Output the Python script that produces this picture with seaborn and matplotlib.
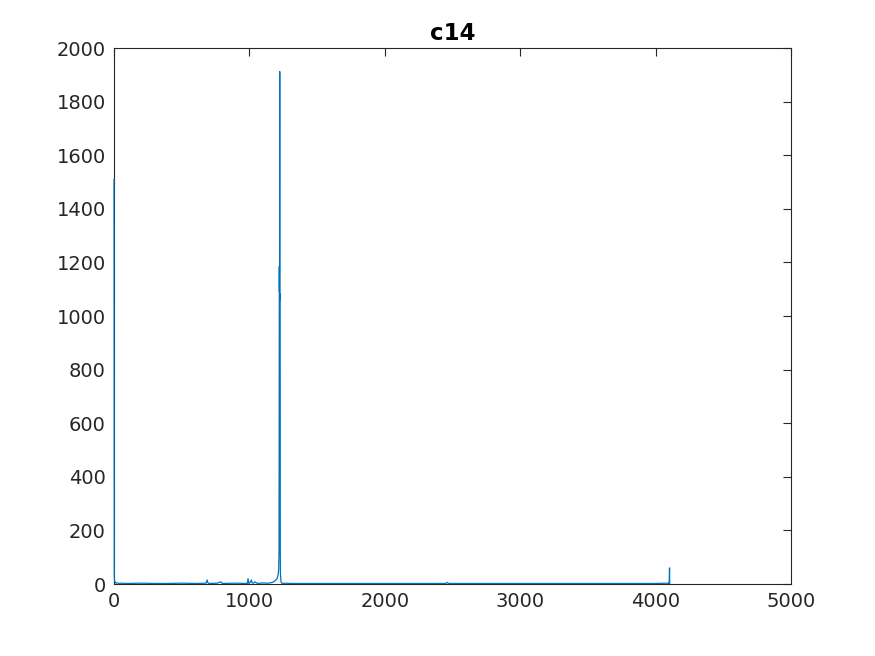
import numpy as np
import pandas as pd
import seaborn as sns
import matplotlib.pyplot as plt

# Key points (channel index vs counts)
channel = [0, 2, 4, 8, 15, 25, 40, 60, 100, 200, 300, 400, 500, 600,
           680, 688, 692, 700, 760, 790, 800, 900, 985, 990, 995, 1000,
           1015, 1020, 1030, 1040, 1060, 1100, 1140, 1170, 1185, 1195,
           1205, 1212, 1216, 1219, 1221, 1222, 1223, 1224, 1225, 1226,
           1227, 1228, 1229, 1231, 1233, 1236, 1240, 1250, 1270, 1300,
           1500, 2000, 2450, 2460, 2470, 3000, 3500, 4000, 4096, 4100,
           4103, 4104]
counts = [1510, 30, 12, 8, 3, 4, 2, 3, 2, 3, 2, 2, 3, 2,
          3, 15, 6, 2, 3, 8, 2, 3, 2, 20, 3, 2,
          15, 4, 3, 8, 2, 4, 3, 6, 10, 15,
          20, 35, 55, 120, 1185, 1090, 1180, 1912, 1060, 1085,
          1070, 130, 40, 25, 10, 5, 3, 2, 3, 2,
          2, 2, 2, 6, 2, 2, 2, 2, 3, 2,
          60, 0]

df = pd.DataFrame({'channel': channel, 'counts': counts})

sns.set_style('white')
plt.rcParams['font.family'] = ['DejaVu Sans']

fig = plt.figure(figsize=(8.75, 6.56), dpi=100)
ax = fig.add_axes([114 / 875, 1 - 584 / 656, (791 - 114) / 875, (584 - 48) / 656])

sns.lineplot(data=df, x='channel', y='counts', color='#0072BD', linewidth=0.9,
             ax=ax, zorder=3, clip_on=False)

ax.set_xlim(0, 5000)
ax.set_ylim(0, 2000)
ax.set_xticks([0, 1000, 2000, 3000, 4000, 5000])
ax.set_yticks(np.arange(0, 2001, 200))
ax.set_xlabel('')
ax.set_ylabel('')
ax.set_title('c14', fontsize=16.5, fontweight='bold', color='black', pad=6)

ax.tick_params(direction='in', length=6, width=0.8, colors='#262626',
               labelsize=14, top=True, right=True, pad=6)
for s in ax.spines.values():
    s.set_color('#262626')
    s.set_linewidth(0.8)

fig.savefig('out.png', dpi=100, facecolor='white')
